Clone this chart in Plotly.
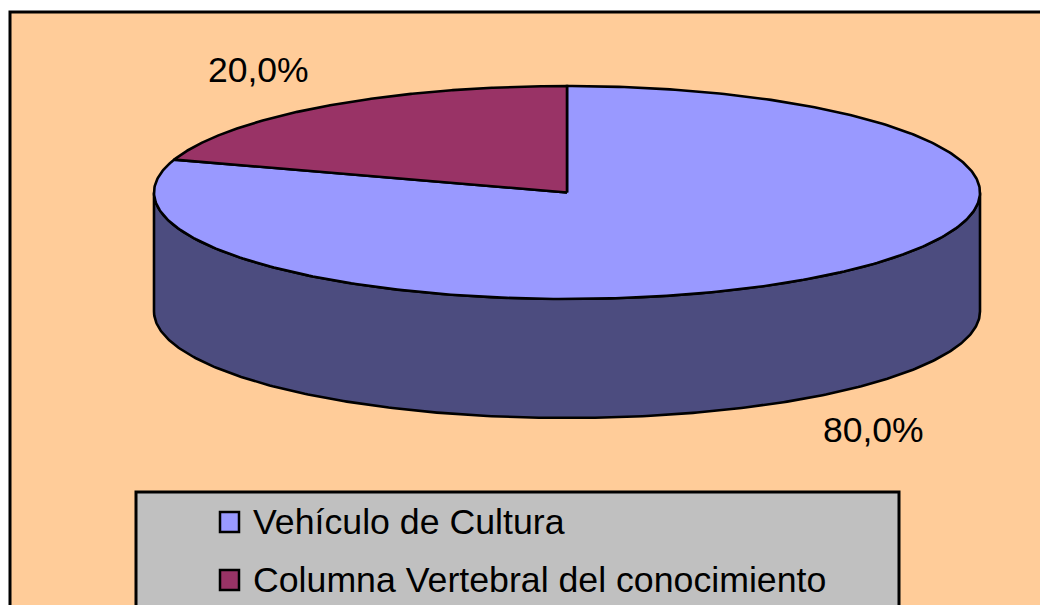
import numpy as np
import plotly.graph_objects as go

# ---- data ----
categories = ["Vehículo de Cultura", "Columna Vertebral del conocimiento"]
values = [80.0, 20.0]
top_colors = ["#9999FF", "#993366"]
side_colors = ["#4C4C7F", "#4D1A33"]
label_pos = [(873, 430), (258, 70)]

# ---- geometry (pixel space) ----
W, H = 1040, 605
cx, cy = 567, 192.5
rx, ry = 413, 106.5
depth = 119
LW = 2.6

def pt(theta_deg, dy=0.0):
    t = np.radians(theta_deg)
    return cx + rx * np.cos(t), cy - ry * np.sin(t) + dy

fig = go.Figure()

total = sum(values)
# Excel 3D pie: first slice starts at 12 o'clock, clockwise
start = 90.0
slices = []
for cat, v, tc, sc in zip(categories, values, top_colors, side_colors):
    sweep = 360.0 * v / total
    a0, a1 = start, start - sweep   # clockwise: decreasing angle
    slices.append((cat, a0, a1, tc, sc))
    start = a1

# side walls (front half: angles between -180 and 0)
for cat, a0, a1, tc, sc in slices:
    lo, hi = min(a0, a1), max(a0, a1)
    for shift in (-360, 0, 360):
        s_lo, s_hi = max(lo + shift, -180), min(hi + shift, 0)
        if s_hi > s_lo:
            th = np.linspace(s_lo, s_hi, 300)
            xt, yt = pt(th)
            xb, yb = pt(th[::-1], depth)
            xs = np.concatenate([xt, xb, xt[:1]])
            ys = np.concatenate([yt, yb, yt[:1]])
            fig.add_trace(go.Scatter(x=xs, y=ys, mode="lines", fill="toself",
                                     fillcolor=sc, line=dict(color="black", width=LW),
                                     hoverinfo="skip", showlegend=False))

# top faces
for cat, a0, a1, tc, sc in slices:
    th = np.linspace(a0, a1, 400)
    xa, ya = pt(th)
    xs = np.concatenate([[cx], xa, [cx]])
    ys = np.concatenate([[cy], ya, [cy]])
    fig.add_trace(go.Scatter(x=xs, y=ys, mode="lines", fill="toself",
                             fillcolor=tc, line=dict(color="black", width=LW),
                             name=cat, hoverinfo="skip", showlegend=False))

FONT = "Arial, Liberation Sans, sans-serif"

# data labels
annotations = []
for v, (lx, ly) in zip(values, label_pos):
    annotations.append(dict(x=lx, y=ly, xref="x", yref="y",
                            text=f"{v:.1f}%".replace(".", ","), showarrow=False,
                            font=dict(family=FONT, size=35.5, color="black"),
                            xanchor="center", yanchor="middle"))

shapes = [
    # chart area
    dict(type="rect", xref="x", yref="y", x0=10, y0=12, x1=W + 30, y1=H + 30,
         fillcolor="#FFCC99", line=dict(color="black", width=3), layer="below"),
    # legend box
    dict(type="rect", xref="x", yref="y", x0=136, y0=492, x1=899, y1=H + 40,
         fillcolor="#C0C0C0", line=dict(color="black", width=3), layer="below"),
]
leg_y = [522, 580]
for cat, tc, yy in zip(categories, top_colors, leg_y):
    shapes.append(dict(type="rect", xref="x", yref="y", x0=220, y0=yy - 10, x1=239, y1=yy + 10,
                       fillcolor=tc, line=dict(color="black", width=2.5)))
    annotations.append(dict(x=251, y=yy, xref="x", yref="y", text=cat, showarrow=False,
                            font=dict(family=FONT, size=35.7, color="black"),
                            xanchor="left", yanchor="middle"))

fig.update_layout(
    width=W, height=H,
    margin=dict(l=0, r=0, t=0, b=0),
    paper_bgcolor="white", plot_bgcolor="white",
    xaxis=dict(range=[0, W], visible=False, fixedrange=True),
    yaxis=dict(range=[H, 0], visible=False, fixedrange=True),
    shapes=shapes, annotations=annotations, showlegend=False,
)

fig.write_html("out.html", config={"displayModeBar": False},
               post_script="document.body.style.margin='0';document.body.style.overflow='hidden';")
